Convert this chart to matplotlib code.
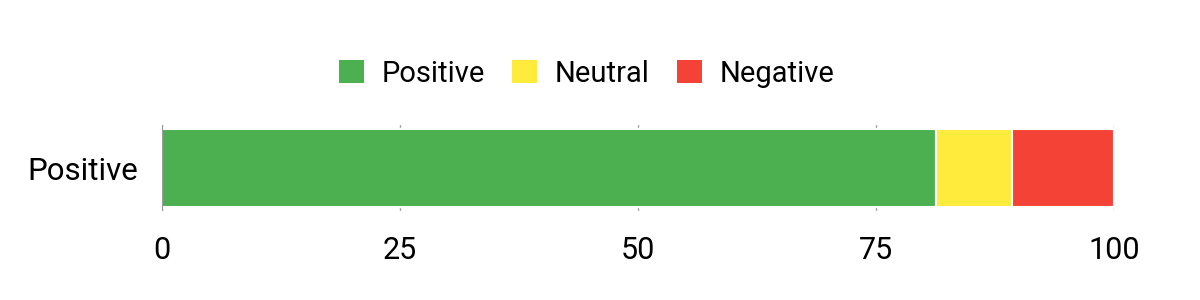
import matplotlib.pyplot as plt
from matplotlib.patches import Patch

plt.rcParams['font.family'] = ['Roboto', 'DejaVu Sans']

# data
categories = ['Positive']
series = ['Positive', 'Neutral', 'Negative']
values = {'Positive': [81.3], 'Neutral': [8.0], 'Negative': [10.7]}
colors = {'Positive': '#4caf50', 'Neutral': '#ffeb3b', 'Negative': '#f44336'}
xticks = [0, 25, 50, 75, 100]

fig = plt.figure(figsize=(12, 3), dpi=100)
ax = fig.add_axes([0.135, 0.297, 0.7935, 0.286])

left = [0.0] * len(categories)
for s in series:
    ax.barh(categories, values[s], left=left, height=0.9, color=colors[s],
            edgecolor='white', linewidth=1.5, zorder=2)
    left = [l + v for l, v in zip(left, values[s])]

ax.set_xlim(0, 100)
ax.set_ylim(-0.5, 0.5)
ax.set_xticks(xticks)
ax.set_xticklabels([str(t) for t in xticks], fontsize=22)
ax.tick_params(axis='x', length=0, pad=18)
ax.tick_params(axis='y', length=0, pad=17, labelsize=22.5)
ax.grid(axis='x', color='#aaaaaa', linewidth=1, zorder=0)
ax.axvline(0, color='#999999', linewidth=1.5, zorder=3)
for sp in ax.spines.values():
    sp.set_visible(False)

handles = [Patch(facecolor=colors[s], label=s) for s in series]
fig.legend(handles=handles, loc='center', bbox_to_anchor=(0.489, 0.755), ncol=3,
           frameon=False, fontsize=21, handlelength=0.85, handleheight=0.85,
           handletextpad=0.6, columnspacing=0.95)

fig.savefig('out.png')
